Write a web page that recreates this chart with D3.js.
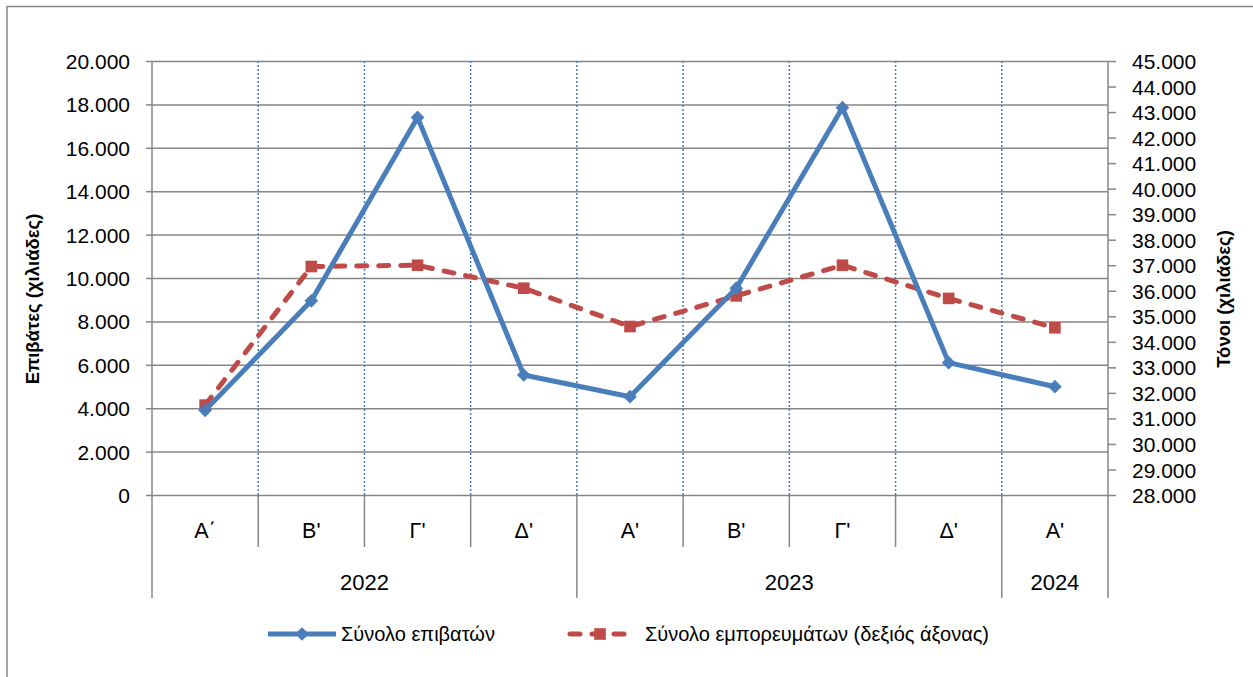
<!DOCTYPE html>
<html>
<head>
<meta charset="utf-8">
<script src="https://cdn.jsdelivr.net/npm/d3@7"></script>
<style>
  html, body { margin: 0; padding: 0; background: #fff; overflow: hidden; }
  svg { display: block; font-family: "Liberation Sans", Arial, sans-serif; }
  .tick-label { font-size: 21px; fill: #000; }
  .cat-label { font-size: 21.5px; fill: #000; }
  .year-label { font-size: 22px; fill: #000; }
  .axis-title { font-size: 18.5px; font-weight: bold; fill: #000; }
  .legend-label { font-size: 20px; fill: #000; }
</style>
</head>
<body>
<svg id="chart" width="1253" height="677"></svg>
<script>
// Quarter categories and their year groups
const quarters = ["Α΄", "Β'", "Γ'", "Δ'", "Α'", "Β'", "Γ'", "Δ'", "Α'"];
const years = ["2022", "2022", "2022", "2022", "2023", "2023", "2023", "2023", "2024"];

// Series (thousands)
const passengers = [3900, 8950, 17400, 5530, 4530, 9530, 17850, 6100, 4990];
const freight = [31520, 36950, 37000, 36100, 34600, 35800, 37000, 35700, 34550];

const leftTicks = d3.range(0, 20001, 2000);
const rightTicks = d3.range(28000, 45001, 1000);

const seriesNames = ["Σύνολο επιβατών", "Σύνολο εμπορευμάτων (δεξιός άξονας)"];
const leftTitle = "Επιβάτες  (χιλιάδες)";
const rightTitle = "Τόνοι  (χιλιάδες)";

const BLUE = "#4a7ebb";
const RED = "#be4b48";
const GRID = "#868686";

const m = { left: 152, right: 1108, top: 61, bottom: 495 };
const svg = d3.select("#chart");

const grLocale = d3.formatLocale({ decimal: ",", thousands: ".", grouping: [3], currency: ["", "€"] });
const fmt = grLocale.format(",d");

const x = d3.scaleBand().domain(d3.range(quarters.length)).range([m.left, m.right]).padding(0);
const yL = d3.scaleLinear().domain([0, 20000]).range([m.bottom, m.top]);
const yR = d3.scaleLinear().domain([28000, 45000]).range([m.bottom, m.top]);
const cx = (i) => x(i) + x.bandwidth() / 2;

// outer chart frame (runs off the right/bottom edge)
svg.append("rect")
  .attr("x", 7).attr("y", 6.5).attr("width", 1300).attr("height", 720)
  .attr("fill", "none").attr("stroke", GRID).attr("stroke-width", 1.5);

// horizontal gridlines + left axis
const gL = svg.append("g")
  .attr("transform", `translate(${m.left},0)`)
  .call(d3.axisLeft(yL).tickValues(leftTicks).tickSize(6).tickFormat(fmt).tickPadding(16));
gL.select(".domain").remove();
gL.selectAll(".tick line").attr("stroke", GRID).attr("stroke-width", 1.5);
gL.selectAll(".tick text").attr("class", "tick-label").attr("font-family", null).attr("font-size", null).attr("dy", "0.36em");
gL.selectAll(".tick").append("line")
  .attr("x1", 0).attr("x2", m.right - m.left)
  .attr("stroke", GRID).attr("stroke-width", 1.5);

// vertical dotted lines at category boundaries
const inner = d3.range(1, quarters.length);
svg.append("g").selectAll("line").data(inner).join("line")
  .attr("x1", (i) => x(i)).attr("x2", (i) => x(i))
  .attr("y1", m.top).attr("y2", m.bottom)
  .attr("stroke", BLUE).attr("stroke-width", 1.5).attr("stroke-dasharray", "2,2");

// right axis
const gR = svg.append("g")
  .attr("transform", `translate(${m.right},0)`)
  .call(d3.axisRight(yR).tickValues(rightTicks).tickSize(8).tickFormat(fmt).tickPadding(16));
gR.select(".domain").remove();
gR.selectAll(".tick line").attr("stroke", GRID).attr("stroke-width", 1.5);
gR.selectAll(".tick text").attr("class", "tick-label").attr("font-family", null).attr("font-size", null).attr("dy", "0.36em");

// axis lines, extended down through the category rows
const catBottom = 547, yearBottom = 598;
[m.left, m.right].forEach((px) => {
  svg.append("line").attr("x1", px).attr("x2", px).attr("y1", m.top).attr("y2", yearBottom)
    .attr("stroke", GRID).attr("stroke-width", 1.5);
});

// category separators
const yearStarts = d3.range(1, years.length).filter((i) => years[i] !== years[i - 1]);
svg.append("g").selectAll("line").data(inner).join("line")
  .attr("x1", (i) => x(i)).attr("x2", (i) => x(i))
  .attr("y1", m.bottom).attr("y2", (i) => yearStarts.includes(i) ? yearBottom : catBottom)
  .attr("stroke", GRID).attr("stroke-width", 1.5);

// quarter labels
svg.append("g").selectAll("text").data(quarters).join("text")
  .attr("class", "cat-label")
  .attr("x", (d, i) => cx(i)).attr("y", 538)
  .attr("text-anchor", "middle")
  .text((d) => d);

// year labels centred on their groups
const groups = d3.groups(years.map((yr, i) => ({ yr, i })), (d) => d.yr);
svg.append("g").selectAll("text").data(groups).join("text")
  .attr("class", "year-label")
  .attr("x", ([, arr]) => (x(arr[0].i) + x(arr[arr.length - 1].i) + x.bandwidth()) / 2)
  .attr("y", 590)
  .attr("text-anchor", "middle")
  .text(([yr]) => yr);

// axis titles
svg.append("text").attr("class", "axis-title")
  .attr("transform", "translate(39,299) rotate(-90)")
  .attr("text-anchor", "middle").text(leftTitle);
svg.append("text").attr("class", "axis-title")
  .attr("transform", "translate(1230,299) rotate(-90)")
  .attr("text-anchor", "middle").text(rightTitle);

// series
const lineP = d3.line().x((d, i) => cx(i)).y((d) => yL(d));
const lineF = d3.line().x((d, i) => cx(i)).y((d) => yR(d));
const diamond = d3.symbol().type(d3.symbolDiamond2).size(120);
const square = d3.symbol().type(d3.symbolSquare).size(135);

svg.append("path").datum(freight).attr("d", lineF)
  .attr("fill", "none").attr("stroke", RED).attr("stroke-width", 5)
  .attr("stroke-dasharray", "10,12").attr("stroke-linecap", "round").attr("stroke-linejoin", "round");
svg.append("g").selectAll("path").data(freight).join("path")
  .attr("d", square).attr("fill", RED)
  .attr("transform", (d, i) => `translate(${cx(i)},${yR(d)})`);

svg.append("path").datum(passengers).attr("d", lineP)
  .attr("fill", "none").attr("stroke", BLUE).attr("stroke-width", 5).attr("stroke-linejoin", "round");
svg.append("g").selectAll("path").data(passengers).join("path")
  .attr("d", diamond).attr("fill", BLUE)
  .attr("transform", (d, i) => `translate(${cx(i)},${yL(d)})`);

// legend
const ly = 634;
const leg = svg.append("g");
leg.append("line").attr("x1", 268).attr("x2", 336).attr("y1", ly).attr("y2", ly)
  .attr("stroke", BLUE).attr("stroke-width", 5);
leg.append("path").attr("d", diamond).attr("fill", BLUE).attr("transform", `translate(302,${ly})`);
leg.append("text").attr("class", "legend-label").attr("x", 341).attr("y", ly).attr("dy", "0.36em").text(seriesNames[0]);

leg.append("line").attr("x1", 570).attr("x2", 632).attr("y1", ly).attr("y2", ly)
  .attr("stroke", RED).attr("stroke-width", 5)
  .attr("stroke-dasharray", "10,12").attr("stroke-linecap", "round");
leg.append("path").attr("d", square).attr("fill", RED).attr("transform", `translate(600,${ly})`);
leg.append("text").attr("class", "legend-label").attr("x", 645).attr("y", ly).attr("dy", "0.36em").text(seriesNames[1]);
</script>
</body>
</html>
